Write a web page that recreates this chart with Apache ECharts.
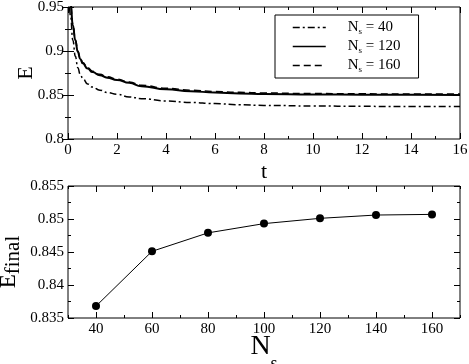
<!DOCTYPE html>
<html>
<head>
<meta charset="utf-8">
<script src="https://cdn.jsdelivr.net/npm/echarts@6/dist/echarts.min.js"></script>
<style>
  html, body { margin: 0; padding: 0; background: #fff; }
  #chart { width: 469px; height: 364px; }
</style>
</head>
<body>
<div id="chart"></div>
<script>
// top panel: energy vs time for three system sizes
const timeT = [0, 0.1, 0.2, 0.3, 0.4, 0.5, 0.6, 0.8, 1, 1.3, 1.6, 2, 2.5, 3, 4, 5, 6, 7, 8, 10, 12, 14, 16];
const eNs40 = [1.0, 0.94, 0.912, 0.894, 0.881, 0.8735, 0.869, 0.8625, 0.859, 0.8555, 0.8528, 0.8508, 0.8478, 0.8458, 0.8432, 0.8415, 0.8402, 0.839, 0.8382, 0.8375, 0.8371, 0.8369, 0.8368];
const eNs120 = [1.0, 0.955, 0.929, 0.912, 0.899, 0.891, 0.886, 0.880, 0.876, 0.8725, 0.8697, 0.867, 0.8638, 0.860, 0.8565, 0.8543, 0.8528, 0.8518, 0.8512, 0.8506, 0.8503, 0.8502, 0.8501];
const eNs160 = [1.0, 0.956, 0.930, 0.913, 0.900, 0.892, 0.887, 0.881, 0.877, 0.8735, 0.8707, 0.868, 0.8648, 0.861, 0.8577, 0.8555, 0.854, 0.853, 0.8523, 0.8516, 0.8513, 0.8511, 0.851];
const seriesNames = ['Ns40', 'Ns120', 'Ns160'];
const legendLabels = ['40', '120', '160'];

// bottom panel: final energy vs Ns
const nsValues = [40, 60, 80, 100, 120, 140, 160];
const eFinal = [0.8368, 0.8451, 0.8479, 0.8493, 0.8501, 0.8506, 0.8507];
const nsMajorTicks = [40, 60, 80, 100, 120, 140, 160];

const FONT = 'Liberation Serif';
const zip = (xs, ys) => xs.map((x, i) => [x, ys[i]]);

const chart = echarts.init(document.getElementById('chart'));

const tickStyle = { color: '#000', width: 1 };
const lbl = { fontFamily: FONT, fontSize: 15, color: '#000' };

function valueAxis(extra) {
    return Object.assign({
        type: 'value',
        axisLine: { show: false },
        splitLine: { show: false },
        axisTick: { show: true, inside: true, length: 6, lineStyle: tickStyle },
        minorTick: { show: true, splitNumber: 2, length: 3, lineStyle: tickStyle },
        axisLabel: Object.assign({ margin: 4 }, lbl)
    }, extra);
}
const noLabel = { show: false };

chart.setOption({
    animation: false,
    backgroundColor: '#fff',
    grid: [
        { left: 68, right: 9, top: 7, height: 132, outerBoundsMode: 'none', containLabel: false,
          show: true, borderColor: '#000', borderWidth: 1, backgroundColor: 'transparent' },
        { left: 68, right: 9, top: 186, height: 132, outerBoundsMode: 'none', containLabel: false,
          show: true, borderColor: '#000', borderWidth: 1, backgroundColor: 'transparent' }
    ],
    legend: {
        orient: 'vertical',
        left: 275,
        top: 15,
        padding: [4, 18, 4, 17],
        itemGap: 2,
        itemWidth: 33,
        itemHeight: 14,
        borderColor: '#000',
        borderWidth: 1,
        backgroundColor: '#fff',
        itemStyle: { opacity: 0, color: 'transparent', borderWidth: 0 },
        lineStyle: { width: 1.5 },
        data: seriesNames,
        formatter: name => '{n|N}{s|s}{n| = ' + legendLabels[seriesNames.indexOf(name)] + '}',
        textStyle: {
            fontFamily: FONT, fontSize: 15, color: '#000', padding: [0, 0, 0, 17],
            rich: {
                n: { fontFamily: FONT, fontSize: 15, lineHeight: 16, color: '#000' },
                s: { fontFamily: FONT, fontSize: 9, lineHeight: 9, color: '#000', padding: [8, 0, 0, 0] }
            }
        }
    },
    xAxis: [
        valueAxis({ gridIndex: 0, min: 0, max: 16, interval: 2, position: 'bottom',
            name: 't', nameLocation: 'middle', nameGap: 22,
            nameTextStyle: { fontFamily: FONT, fontSize: 22, color: '#000' } }),
        valueAxis({ gridIndex: 0, min: 0, max: 16, interval: 2, position: 'top', axisLabel: noLabel }),
        valueAxis({ gridIndex: 1, min: 30, max: 170, position: 'bottom',
            axisTick: { show: true, inside: true, length: 6, lineStyle: tickStyle, customValues: nsMajorTicks },
            minorTick: { show: false },
            axisLabel: Object.assign({ margin: 4, customValues: nsMajorTicks }, lbl),
            name: '{n|N}{s|s}', nameLocation: 'middle', nameGap: 2, nameMoveOverlap: false,
            nameTextStyle: {
                fontFamily: FONT, fontSize: 28, color: '#000', verticalAlign: 'top',
                rich: {
                    n: { fontFamily: FONT, fontSize: 28, color: '#000' },
                    s: { fontFamily: FONT, fontSize: 18, color: '#000', padding: [35, 0, 0, 0] }
                }
            } }),
        valueAxis({ gridIndex: 1, min: 30, max: 170, interval: 10, position: 'bottom',
            axisTick: { show: true, inside: true, length: 3, lineStyle: tickStyle },
            minorTick: { show: false }, axisLabel: noLabel }),
        valueAxis({ gridIndex: 1, min: 30, max: 170, position: 'top',
            axisTick: { show: true, inside: true, length: 6, lineStyle: tickStyle, customValues: nsMajorTicks },
            minorTick: { show: false }, axisLabel: noLabel }),
        valueAxis({ gridIndex: 1, min: 30, max: 170, interval: 10, position: 'top',
            axisTick: { show: true, inside: true, length: 3, lineStyle: tickStyle },
            minorTick: { show: false }, axisLabel: noLabel })
    ],
    yAxis: [
        valueAxis({ gridIndex: 0, min: 0.8, max: 0.95, interval: 0.05, position: 'left',
            name: 'E', nameLocation: 'middle', nameGap: 31, nameMoveOverlap: false,
            nameTextStyle: { fontFamily: FONT, fontSize: 22, color: '#000' } }),
        valueAxis({ gridIndex: 0, min: 0.8, max: 0.95, interval: 0.05, position: 'right', axisLabel: noLabel }),
        valueAxis({ gridIndex: 1, min: 0.835, max: 0.855, interval: 0.005, position: 'left',
            name: '{n|E}{s|final}', nameLocation: 'middle', nameGap: 44, nameMoveOverlap: false,
            nameTextStyle: {
                fontFamily: FONT, fontSize: 23, color: '#000', padding: [0, 20, 0, 0],
                rich: {
                    n: { fontFamily: FONT, fontSize: 23, color: '#000' },
                    s: { fontFamily: FONT, fontSize: 21, color: '#000', padding: [9, 0, 0, 0] }
                }
            } }),
        valueAxis({ gridIndex: 1, min: 0.835, max: 0.855, interval: 0.005, position: 'right', axisLabel: noLabel })
    ],
    series: [
        { name: 'Ns40', type: 'line', xAxisIndex: 0, yAxisIndex: 0, data: zip(timeT, eNs40),
          symbol: 'none', smooth: true, smoothMonotone: 'x',
          itemStyle: { color: '#000' }, lineStyle: { color: '#000', width: 1.5, type: [7, 3, 2, 3] } },
        { name: 'Ns120', type: 'line', xAxisIndex: 0, yAxisIndex: 0, data: zip(timeT, eNs120),
          symbol: 'none', smooth: true, smoothMonotone: 'x',
          itemStyle: { color: '#000' }, lineStyle: { color: '#000', width: 2, type: 'solid' } },
        { name: 'Ns160', type: 'line', xAxisIndex: 0, yAxisIndex: 0, data: zip(timeT, eNs160),
          symbol: 'none', smooth: true, smoothMonotone: 'x',
          itemStyle: { color: '#000' }, lineStyle: { color: '#000', width: 1.5, type: [7, 4] } },
        { name: 'Efinal', type: 'line', xAxisIndex: 2, yAxisIndex: 2, data: zip(nsValues, eFinal),
          symbol: 'circle', symbolSize: 8,
          itemStyle: { color: '#000' }, lineStyle: { color: '#000', width: 1 } }
    ]
});
</script>
</body>
</html>
